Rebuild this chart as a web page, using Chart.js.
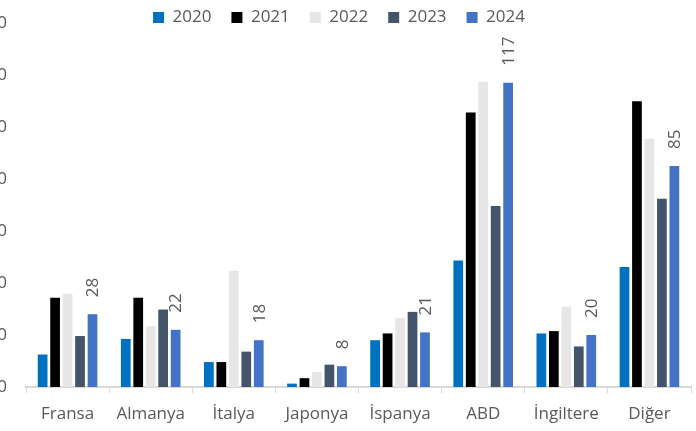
<!DOCTYPE html>
<html>
<head>
<meta charset="utf-8">
<script src="https://cdn.jsdelivr.net/npm/chart.js@4/dist/chart.umd.min.js"></script>
<style>
  html, body { margin: 0; padding: 0; background: #fff; overflow: hidden; }
  canvas { display: block; }
</style>
</head>
<body>
<canvas id="movesChart" width="696" height="431"></canvas>
<script>
// chart data
const countries = ['Fransa', 'Almanya', 'İtalya', 'Japonya', 'İspanya', 'ABD', 'İngiltere', 'Diğer'];
const years = ['2020', '2021', '2022', '2023', '2024'];
const v2020 = [12.5, 18.5, 9.6, 1.3, 18, 48.7, 20.6, 46.2];
const v2021 = [34.3, 34.3, 9.6, 3.4, 20.6, 105.6, 21.5, 109.9];
const v2022 = [35.9, 23.4, 44.7, 5.7, 26.5, 117.4, 30.9, 95.5];
const v2023 = [19.6, 29.8, 13.6, 8.6, 28.9, 69.6, 15.6, 72.4];
const v2024 = [28, 22, 18, 8, 21, 117, 20, 85];
const colors = ['#0070C0', '#000000', '#E7E6E6', '#44546A', '#4472C4'];

const allValues = [v2020, v2021, v2022, v2023, v2024];
const textColor = '#595959';
const font = { family: '"Open Sans", sans-serif', size: 17 };

// rotated value labels above the 2024 bars
const valueLabels = {
    id: 'valueLabels',
    afterDatasetsDraw(chart) {
        const ctx = chart.ctx;
        const meta = chart.getDatasetMeta(4);
        ctx.save();
        ctx.fillStyle = textColor;
        ctx.font = '17px "Open Sans", sans-serif';
        ctx.textAlign = 'left';
        ctx.textBaseline = 'middle';
        meta.data.forEach((bar, i) => {
            ctx.save();
            ctx.translate(bar.x + 1, bar.y - 17);
            ctx.rotate(-Math.PI / 2);
            ctx.fillText(String(v2024[i]), 0, 0);
            ctx.restore();
        });
        ctx.restore();
    }
};

// legend sits a bit left of centre in the original
const legendShift = {
    id: 'legendShift',
    afterLayout(chart) {
        chart.legend.left -= 6.5;
        chart.legend.right -= 6.5;
    }
};

const chart = document.getElementById('movesChart').getContext('2d');

window.movesChart = new Chart(chart, {
    type: 'bar',
    data: {
        labels: countries,
        datasets: years.map((y, i) => ({
            label: y,
            data: allValues[i],
            backgroundColor: colors[i],
            borderWidth: 0,
            categoryPercentage: 0.75,
            barPercentage: 0.78
        }))
    },
    options: {
        responsive: false,
        animation: false,
        layout: { padding: { top: -11, right: 5, bottom: -4.4, left: 0 } },
        plugins: {
            tooltip: { enabled: false },
            legend: {
                position: 'top',
                maxHeight: 34,
                labels: {
                    boxWidth: 11,
                    boxHeight: 11,
                    padding: 20,
                    color: textColor,
                    font: font
                }
            }
        },
        scales: {
            x: {
                grid: { offset: true, drawOnChartArea: false, tickLength: 6, color: '#D9D9D9' },
                border: { color: '#D9D9D9', width: 2 },
                ticks: { color: textColor, font: font, padding: 11, maxRotation: 0 }
            },
            y: {
                min: 0,
                max: 140,
                grid: { display: false, drawTicks: false },
                border: { display: false },
                ticks: { stepSize: 20, color: textColor, font: font, padding: 19 },
                // labels run off the left edge, as in the original crop
                afterFit(scale) {
                    scale.width = 26;
                    scale.paddingTop = 0;
                    scale.paddingBottom = 0;
                }
            }
        }
    },
    plugins: [valueLabels, legendShift]
});
</script>
</body>
</html>
